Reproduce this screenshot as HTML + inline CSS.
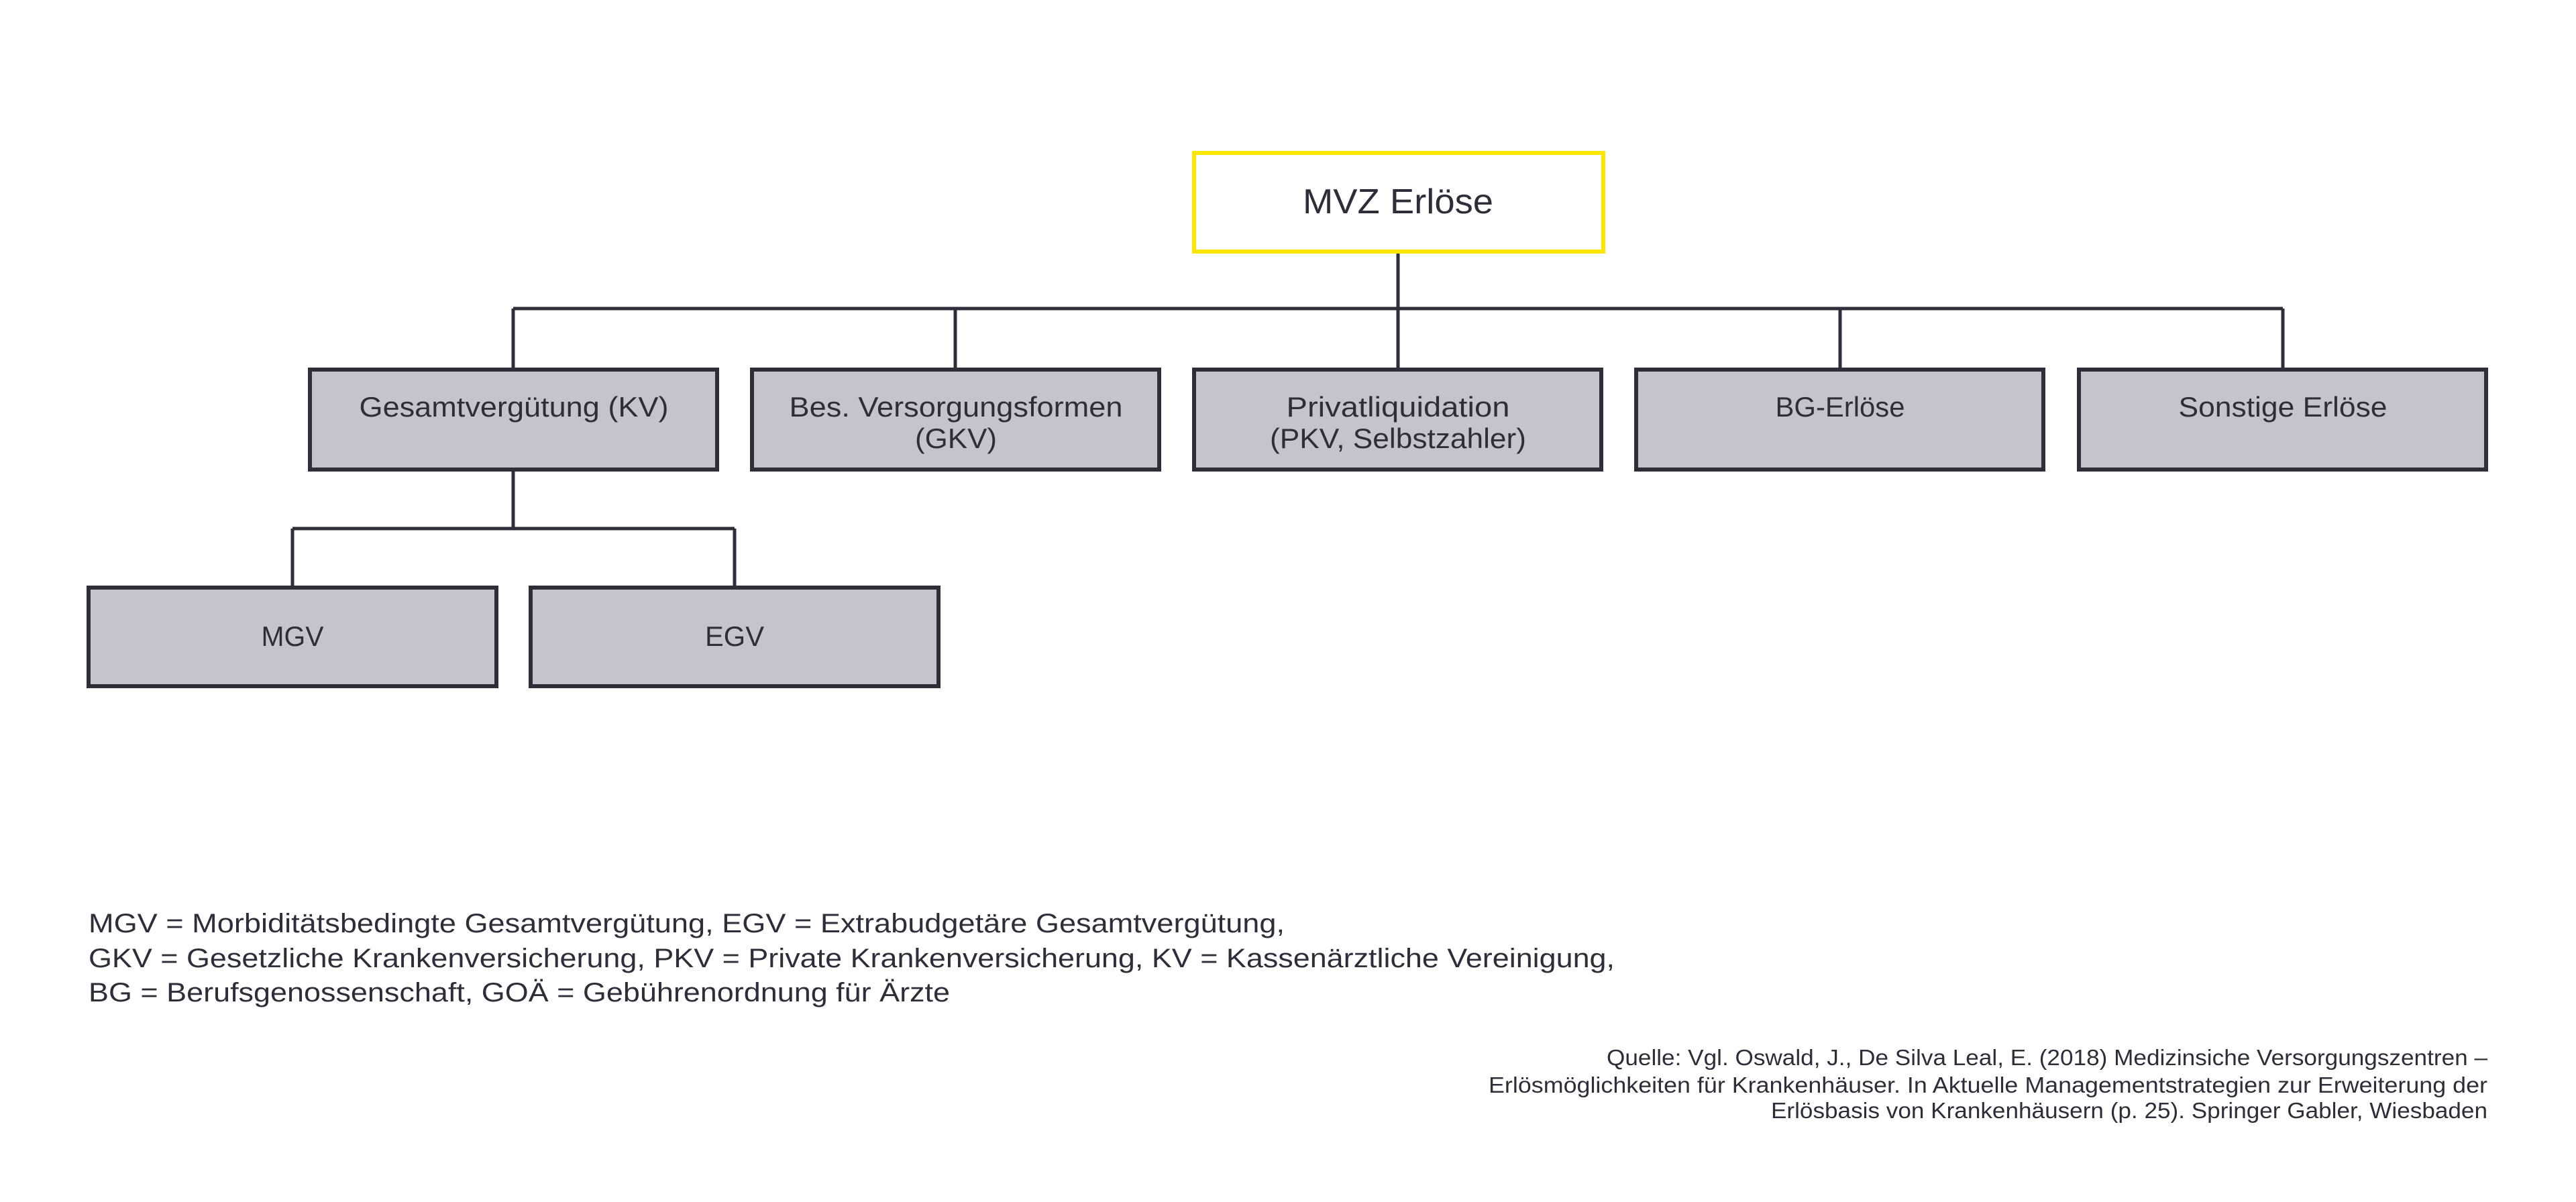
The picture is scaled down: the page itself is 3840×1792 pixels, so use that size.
<!DOCTYPE html>
<html><head><meta charset="utf-8"><style>html,body{margin:0;padding:0;background:#fff}svg{display:block}</style></head>
<body>
<svg width="3840" height="1792" viewBox="0 0 3840 1792" xmlns="http://www.w3.org/2000/svg" font-family="'Liberation Sans', sans-serif" fill="#2e2e38">
<rect x="0" y="0" width="3840" height="1792" fill="#fff"/>
<g stroke="#2e2e38" stroke-width="5" fill="none">
<line x1="2084" y1="378" x2="2084" y2="550"/>
<line x1="765" y1="460" x2="3403" y2="460"/>
<line x1="765" y1="460" x2="765" y2="550"/>
<line x1="1424" y1="460" x2="1424" y2="550"/>
<line x1="2743" y1="460" x2="2743" y2="550"/>
<line x1="3403" y1="460" x2="3403" y2="550"/>
<line x1="765" y1="701" x2="765" y2="788"/>
<line x1="436" y1="788" x2="1095" y2="788"/>
<line x1="436" y1="788" x2="436" y2="875"/>
<line x1="1095" y1="788" x2="1095" y2="875"/>
</g>
<rect x="1780" y="228" width="610" height="147" fill="#fff" stroke="#ffe600" stroke-width="6"/>
<g fill="#c4c4cc" stroke="#2e2e38" stroke-width="6">
<rect x="462" y="551" width="607" height="149"/>
<rect x="1121" y="551" width="607" height="149"/>
<rect x="1780" y="551" width="607" height="149"/>
<rect x="2439" y="551" width="607" height="149"/>
<rect x="3099" y="551" width="607" height="149"/>
<rect x="132" y="876" width="608" height="147"/>
<rect x="791" y="876" width="608" height="147"/>
</g>
<g text-anchor="middle" lengthAdjust="spacingAndGlyphs">
<text x="2084" y="318" font-size="52" font-weight="500" textLength="284" lengthAdjust="spacingAndGlyphs">MVZ Erlöse</text>
<text x="766" y="621" font-size="42" textLength="461" lengthAdjust="spacingAndGlyphs">Gesamtvergütung (KV)</text>
<text x="1425" y="621" font-size="42" textLength="497" lengthAdjust="spacingAndGlyphs">Bes. Versorgungsformen</text>
<text x="1425" y="668" font-size="42" textLength="122" lengthAdjust="spacingAndGlyphs">(GKV)</text>
<text x="2084" y="621" font-size="42" textLength="333" lengthAdjust="spacingAndGlyphs">Privatliquidation</text>
<text x="2084" y="668" font-size="42" textLength="382" lengthAdjust="spacingAndGlyphs">(PKV, Selbstzahler)</text>
<text x="2743" y="621" font-size="42" textLength="193" lengthAdjust="spacingAndGlyphs">BG-Erlöse</text>
<text x="3403" y="621" font-size="42" textLength="311" lengthAdjust="spacingAndGlyphs">Sonstige Erlöse</text>
<text x="436" y="963" font-size="42" textLength="93" lengthAdjust="spacingAndGlyphs">MGV</text>
<text x="1095" y="963" font-size="42" textLength="88" lengthAdjust="spacingAndGlyphs">EGV</text>
</g>
<g font-size="40">
<text x="132" y="1390" textLength="1783" lengthAdjust="spacingAndGlyphs">MGV = Morbiditätsbedingte Gesamtvergütung, EGV = Extrabudgetäre Gesamtvergütung,</text>
<text x="132" y="1442" textLength="2275" lengthAdjust="spacingAndGlyphs">GKV = Gesetzliche Krankenversicherung, PKV = Private Krankenversicherung, KV = Kassenärztliche Vereinigung,</text>
<text x="132" y="1493" textLength="1284" lengthAdjust="spacingAndGlyphs">BG = Berufsgenossenschaft, GOÄ = Gebührenordnung für Ärzte</text>
</g>
<g font-size="33" text-anchor="end">
<text x="3708" y="1588" textLength="1313" lengthAdjust="spacingAndGlyphs">Quelle: Vgl. Oswald, J., De Silva Leal, E. (2018) Medizinsiche Versorgungszentren –</text>
<text x="3708" y="1629" textLength="1489" lengthAdjust="spacingAndGlyphs">Erlösmöglichkeiten für Krankenhäuser. In Aktuelle Managementstrategien zur Erweiterung der</text>
<text x="3708" y="1667" textLength="1068" lengthAdjust="spacingAndGlyphs">Erlösbasis von Krankenhäusern (p. 25). Springer Gabler, Wiesbaden</text>
</g>
</svg>
</body></html>
